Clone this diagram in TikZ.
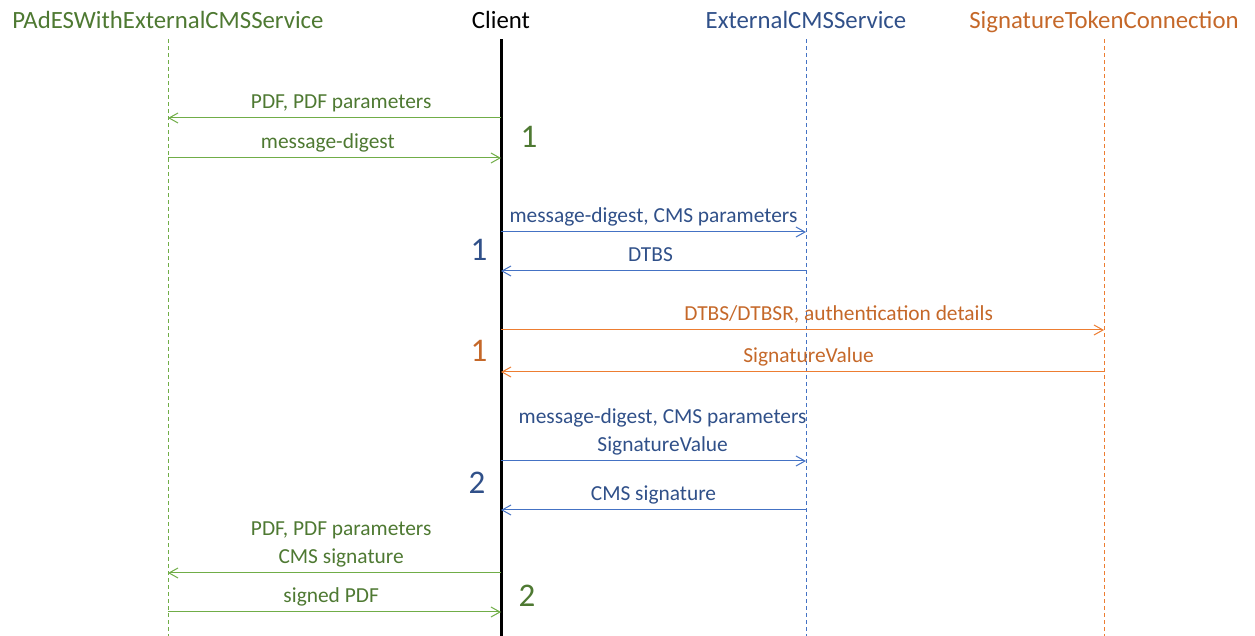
\documentclass[tikz,border=0pt]{standalone}
\usepackage{fontspec}
\setmainfont{Carlito}
\usetikzlibrary{arrows.meta}

\definecolor{office green}{HTML}{70AD47}
\definecolor{office blue}{HTML}{4472C4}
\definecolor{office orange}{HTML}{ED7D31}
\colorlet{pades line}{office green}
\colorlet{pades text}{office green!70!black}
\colorlet{ecs line}{office blue}
\colorlet{ecs text}{office blue!70!black}
\colorlet{stc line}{office orange}
\colorlet{stc text}{office orange!83!black}
\colorlet{client text}{black}
\def\actorFont{\fontsize{12.4}{15}\selectfont}
\def\labelFont{\fontsize{10.7}{14}\selectfont}
\tikzset{
  lifeline/.style={draw=#1, line width=0.5pt, dash pattern=on 2pt off 1.5pt},
  clientline/.style={draw=black, line width=1.5pt},
  message/.style={draw=#1, line width=0.5pt, -{Straight Barb[length=4.5pt,width=5pt]}},
  lbl/.style={text=#1, font=\labelFont, align=center, anchor=south, inner sep=0pt, text depth=.25em, yshift=2.2pt}
  }
\tikzstyle{actor}=[font=\actorFont, inner sep=2.4pt, text height=.75em, text depth=.25em]
\tikzstyle{stepnum}=[font=\fontsize{16.5}{19}\selectfont, inner sep=0pt]

\begin{document}
\begin{tikzpicture}[x=0.5pt, y=-0.5pt]
  \useasboundingbox (0,0) rectangle (1255,636);

  \foreach \xpos/\name/\label in {168/pades/PAdESWithExternalCMSService, 501/client/Client, 806/ecs/ExternalCMSService, 1104/stc/SignatureTokenConnection} {
    \node[actor, text=\name\space text] (\name) at (\xpos,24) {\label};
    \coordinate (\name-end) at (\xpos,636);
  }

  \foreach \name in {pades, ecs, stc} {
    \path[lifeline=\name\space line] (\name.south) -- (\name-end);
  }
  \path[clientline] (client.south) -- (client-end);

  \draw[message=pades line] (client |- 0,118) -- node[lbl=pades text, pos=0.48] {PDF, PDF parameters} (pades |- 0,118);
  \draw[message=pades line] (pades |- 0,158) -- node[lbl=pades text, pos=0.48] {message-digest} (client |- 0,158);
  \node[stepnum, text=pades text] (greenA) at (529,137) {1};

  \draw[message=ecs line] (client |- 0,232) -- node[lbl=ecs text, pos=0.5] {message-digest,\ CMS parameters} (ecs |- 0,232);
  \draw[message=ecs line] (ecs |- 0,271) -- node[lbl=ecs text, pos=0.51] {DTBS} (client |- 0,271);
  \node[stepnum, text=ecs text] (blueA) at (479,250) {1};

  \draw[message=stc line] (client |- 0,330) -- node[lbl=stc text, pos=0.56] {DTBS/DTBSR,\ authentication details} (stc |- 0,330);
  \draw[message=stc line] (stc |- 0,372) -- node[lbl=stc text, pos=0.49] {SignatureValue} (client |- 0,372);
  \node[stepnum, text=stc text] (orangeA) at (479,351) {1};

  \draw[message=ecs line] (client |- 0,461) -- node[lbl=ecs text, pos=0.53] {message-digest,\ CMS parameters\\SignatureValue} (ecs |- 0,461);
  \draw[message=ecs line] (ecs |- 0,510) -- node[lbl=ecs text, pos=0.5] {CMS signature} (client |- 0,510);
  \node[stepnum, text=ecs text] (blueB) at (477,483) {2};

  \draw[message=pades line] (client |- 0,573) -- node[lbl=pades text, pos=0.48] {PDF, PDF parameters\\CMS signature} (pades |- 0,573);
  \draw[message=pades line] (pades |- 0,612) -- node[lbl=pades text, pos=0.49] {signed PDF} (client |- 0,612);
  \node[stepnum, text=pades text] (greenB) at (527,596) {2};
\end{tikzpicture}
\end{document}
